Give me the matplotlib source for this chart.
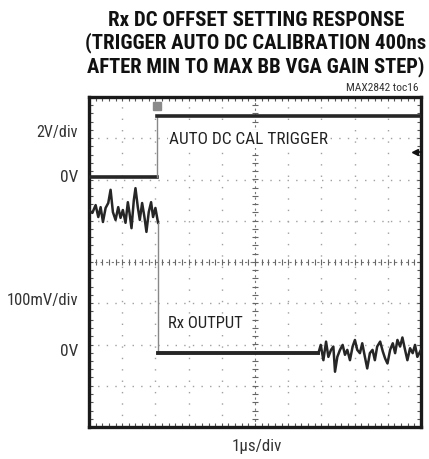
import numpy as np
import matplotlib
matplotlib.use('Agg')
import matplotlib.pyplot as plt

W, H = 429, 459

# scope screen: 10 x 8 divisions
n_xdiv = 10
n_ydiv = 8

# trigger trace (divisions)
trig_x = [0.0, 2.06, 2.06, 10.0]
trig_y = [2.06, 2.06, 3.55, 3.55]

# Rx output before calibration (noisy)
rx_pre_x = [0.00, 0.10, 0.20, 0.28, 0.35, 0.42, 0.50, 0.58, 0.65, 0.72, 0.80, 0.88, 0.95, 1.02,
            1.10, 1.17, 1.22, 1.28, 1.35, 1.40, 1.47, 1.53, 1.60, 1.67, 1.73, 1.80, 1.87,
            1.93, 2.00, 2.08]
rx_pre_y = [1.25, 1.19, 1.38, 1.09, 1.33, 0.97, 1.31, 1.43, 1.75, 1.21, 1.02, 1.33, 1.07, 1.26,
            0.95, 1.45, 1.19, 0.82, 1.50, 1.79, 1.33, 1.02, 1.43, 1.09, 0.73, 1.21, 1.45,
            1.09, 1.31, 0.95]

# Rx output after calibration, settled part
rx_flat_x = [2.08, 6.91]
rx_flat_y = [-2.21, -2.21]

# Rx output, noisy tail
rx_post_x = [6.91, 6.98, 7.06, 7.14, 7.21, 7.29, 7.36, 7.41, 7.48, 7.56, 7.64, 7.71, 7.78, 7.86,
             7.94, 8.01, 8.08, 8.16, 8.23, 8.31, 8.38, 8.46, 8.54, 8.61, 8.68, 8.77, 8.85,
             8.92, 8.99, 9.07, 9.15, 9.22, 9.29, 9.37, 9.44, 9.52, 9.59, 9.67, 9.75, 9.82,
             9.89, 10.0]
rx_post_y = [-2.21, -2.01, -2.38, -1.93, -2.30, -2.13, -2.05, -2.66, -2.30, -2.13, -2.01, -2.25,
             -2.13, -2.38, -2.05, -1.89, -2.13, -2.21, -1.97, -2.30, -2.58, -2.21, -2.13,
             -2.38, -2.05, -1.93, -2.17, -2.34, -2.46, -2.13, -1.97, -2.21, -1.89, -2.05,
             -1.83, -2.13, -2.38, -2.09, -2.21, -2.01, -2.30, -2.13]

title_lines = ["Rx DC OFFSET SETTING RESPONSE",
               "(TRIGGER AUTO DC CALIBRATION 400ns",
               "AFTER MIN TO MAX BB VGA GAIN STEP)"]

narrow = ['Roboto Condensed', 'Liberation Sans Narrow', 'DejaVu Sans Condensed', 'Roboto', 'DejaVu Sans']

fig = plt.figure(figsize=(W / 100, H / 100), dpi=100)
renderer = fig.canvas.get_renderer()


def fit_text(x_px, y_px, s, width_px, ha='center', **kw):
	"""put text at pixel position, sized so that it is width_px wide"""
	t = fig.text(x_px / W, 1 - y_px / H, s, ha=ha, va='center', fontsize=10, **kw)
	w = t.get_window_extent(renderer).width
	t.set_fontsize(10 * width_px / w)
	return t


ax = fig.add_axes([89 / W, 1 - 427 / H, 332 / W, 330 / H])

ax.set_xlim(0, n_xdiv)
ax.set_ylim(-n_ydiv / 2, n_ydiv / 2)

# grid
grid_col = '#a0a0a0'
for gx in range(1, n_xdiv):
	if gx == n_xdiv // 2:
		continue
	ax.plot([gx, gx], [-4, 4], color=grid_col, lw=1.0, ls=(0, (1, 7.2)), zorder=1)
for gy in range(-3, 4):
	if gy == 0:
		continue
	ax.plot([0, 10], [gy, gy], color=grid_col, lw=1.0, ls=(0, (1, 5.2)), zorder=1)

# centre axes with sub-division ticks
ax.axhline(0, color='#777777', lw=0.8, ls=(0, (2, 3)), zorder=1)
ax.axvline(5, color='#777777', lw=0.8, ls=(0, (2, 3)), zorder=1)
sub_x = np.arange(0.2, 10, 0.2)
sub_y = np.arange(-3.8, 4, 0.2)
ax.plot(sub_x, np.zeros_like(sub_x), ls='none', marker='|', ms=5, mew=0.8, color='#666666', zorder=1)
ax.plot(np.full_like(sub_y, 5), sub_y, ls='none', marker='_', ms=5, mew=0.8, color='#666666', zorder=1)

# frame ticks
ax.set_xticks(np.arange(0, 11, 1))
ax.set_yticks(np.arange(-4, 5, 1))
ax.set_xticks(sub_x, minor=True)
ax.set_yticks(sub_y, minor=True)
ax.tick_params(which='both', direction='in', length=3, width=0.8, color='#555555',
               top=True, right=True, labelbottom=False, labelleft=False)
for sp in ax.spines.values():
	sp.set_linewidth(2.4)
	sp.set_color('#1a1a1a')

trace_col = '#262626'
# trigger trace
ax.plot(trig_x[:2], trig_y[:2], color=trace_col, lw=2.6, zorder=3)
ax.plot(trig_x[1:3], trig_y[1:3], color='#888888', lw=1.0, zorder=3)
ax.plot(trig_x[2:], trig_y[2:], color=trace_col, lw=2.6, zorder=3)
ax.plot([2.06], [3.78], marker='s', ms=6, color='#8a8a8a', zorder=4)
ax.plot([9.82, 10.0], [2.67, 2.67], color='#111111', lw=1.2, zorder=4, clip_on=False)
ax.plot([9.82], [2.67], marker='<', ms=4, color='#111111', zorder=4)

# Rx output trace
ax.plot(rx_pre_x, rx_pre_y, color=trace_col, lw=1.8, zorder=3)
ax.plot([rx_pre_x[-1], rx_flat_x[0]], [rx_pre_y[-1], rx_flat_y[0]], color='#888888', lw=1.0, zorder=3)
ax.plot(rx_flat_x, rx_flat_y, color=trace_col, lw=2.8, zorder=3)
ax.plot(rx_post_x, rx_post_y, color=trace_col, lw=1.8, zorder=3)

# in-screen labels
lab1 = fit_text(169, 139, "AUTO DC CAL TRIGGER", 158, ha='left', family=narrow, color='#222222')
lab2 = fit_text(168, 323, "Rx OUTPUT", 75, ha='left', family=narrow, color='#222222')
for t in (lab1, lab2):
	t.set_zorder(5)
	t.set_bbox(dict(facecolor='white', edgecolor='none', pad=1))

# side labels
for txt, ypx, wpx in [("2V/div", 132, 41), ("0V", 178, 18), ("100mV/div", 301, 71), ("0V", 352, 18)]:
	fit_text(78, ypx, txt, wpx, ha='right', family=narrow, color='#333333')

fit_text(257, 447, "1µs/div", 50, family=narrow, color='#333333')
fit_text(419, 88, "MAX2842 toc16", 72, ha='right', family=narrow, color='#333333')

for line, ypx, wpx in zip(title_lines, [20, 43, 67], [294, 340, 338]):
	fit_text(256, ypx, line, wpx, family=narrow, fontweight='bold', color='#111111')

fig.savefig('out.png', dpi=100)
